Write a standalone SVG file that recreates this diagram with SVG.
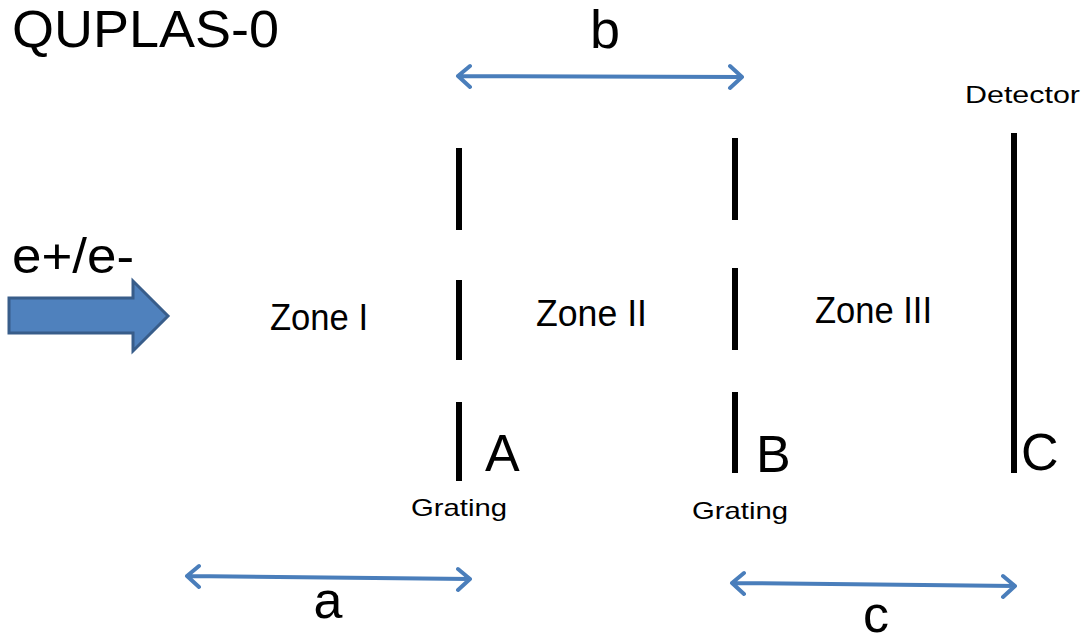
<svg xmlns="http://www.w3.org/2000/svg" width="1091" height="641" viewBox="0 0 1091 641">
<defs>
<style>
text{font-family:"Liberation Sans",Arial,sans-serif;fill:#000}
.big{font-size:52px}
.zone{font-size:36px}
.small{font-size:24px}
.bar{stroke:#000;stroke-width:6}
.dim{stroke:#4a7ebb;stroke-width:4;fill:none;stroke-linecap:round;stroke-linejoin:round}
</style>
</defs>
<rect width="1091" height="641" fill="#fff"/>
<text x="12" y="47" class="big" textLength="267" lengthAdjust="spacingAndGlyphs">QUPLAS-0</text>
<g id="beam">
<text x="12" y="273" style="font-size:50px" textLength="122" lengthAdjust="spacingAndGlyphs">e+/e-</text>
<polygon points="9,298 133,298 133,281 168,316 133,351 133,333 9,333" fill="#4f81bd" stroke="#385d8a" stroke-width="3"/>
</g>
<g id="gratingA">
<line class="bar" x1="459" y1="148" x2="459" y2="230"/>
<line class="bar" x1="459" y1="280" x2="459" y2="360"/>
<line class="bar" x1="459" y1="402" x2="459" y2="481"/>
<text x="485" y="471" class="big">A</text>
<text x="411" y="516" class="small" textLength="96" lengthAdjust="spacingAndGlyphs">Grating</text>
</g>
<g id="gratingB">
<line class="bar" x1="735" y1="138" x2="735" y2="220"/>
<line class="bar" x1="735" y1="268" x2="735" y2="350"/>
<line class="bar" x1="735" y1="392" x2="735" y2="473"/>
<text x="756" y="472" class="big">B</text>
<text x="692" y="519" class="small" textLength="96" lengthAdjust="spacingAndGlyphs">Grating</text>
</g>
<g id="detector">
<line class="bar" x1="1014" y1="133" x2="1014" y2="473"/>
<text x="1021" y="470" class="big">C</text>
<text x="965" y="103" class="small" textLength="115" lengthAdjust="spacingAndGlyphs">Detector</text>
</g>
<g id="zones">
<text x="270" y="330" class="zone" textLength="98" lengthAdjust="spacingAndGlyphs">Zone I</text>
<text x="536" y="326" class="zone" textLength="111" lengthAdjust="spacingAndGlyphs">Zone II</text>
<text x="815" y="323" class="zone" textLength="117" lengthAdjust="spacingAndGlyphs">Zone III</text>
</g>
<g id="connectors">
<path class="dim" d="M458,76 L742,77 M470,66 L458,76 L470,87 M730,66 L742,77 L730,88"/>
<path class="dim" d="M187,576 L470,579 M199,566 L187,576 L199,587 M458,569 L470,579 L458,590"/>
<path class="dim" d="M732,583 L1015,586 M744,573 L732,583 L744,594 M1003,576 L1015,586 L1003,597"/>
<text x="605" y="48" style="font-size:54px" text-anchor="middle">b</text>
<text x="328" y="618" class="big" text-anchor="middle">a</text>
<text x="876" y="632" class="big" text-anchor="middle">c</text>
</g>
</svg>
